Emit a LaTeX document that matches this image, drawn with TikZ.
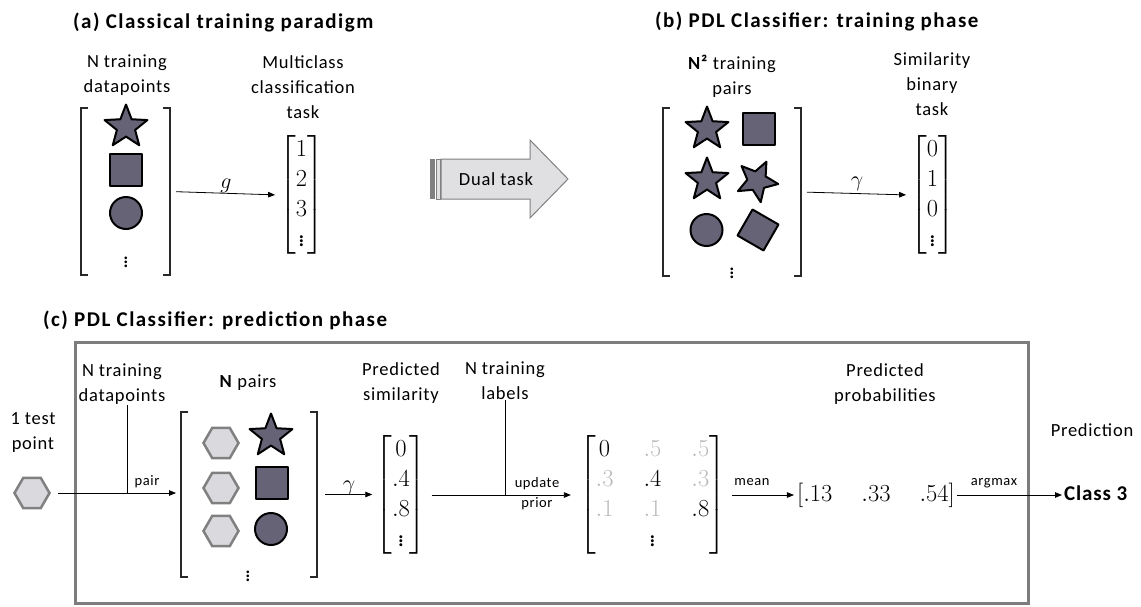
\RequirePackage{fix-cm}
\documentclass[tikz,border=0pt]{standalone}
\usepackage{amsmath}
\usepackage[no-math]{fontspec}
\setmainfont{Carlito}[LetterSpace=4]
\usetikzlibrary{arrows.meta,shapes.geometric}

\definecolor{shapefill}{RGB}{102,99,119}
\definecolor{hexfill}{RGB}{218,218,222}
\definecolor{hexline}{RGB}{128,128,128}
\definecolor{framecol}{RGB}{125,125,125}
\definecolor{arrowfill}{RGB}{224,224,226}
\definecolor{faint}{RGB}{185,185,185}
\definecolor{bracketcol}{RGB}{40,40,40}

% open square brackets around a group node
\newcommand\groupbrackets[1]{%
  \draw[bigbr] ([xshift=7pt]#1.north west) -- (#1.north west) -- (#1.south west) -- ([xshift=7pt]#1.south west);
  \draw[bigbr] ([xshift=-7pt]#1.north east) -- (#1.north east) -- (#1.south east) -- ([xshift=-7pt]#1.south east);
}

\begin{document}
\begin{tikzpicture}[x=1pt,y=-1pt,
  lbl/.style={font=\fontsize{18.5}{25}\selectfont, align=center, inner sep=0pt},
  ttl/.style={font=\fontsize{21}{25}\selectfont\bfseries\addfontfeatures{LetterSpace=7}, anchor=base west, inner sep=0pt},
  note/.style={font=\fontsize{14.5}{20}\selectfont, align=center, inner sep=0pt},
  mbig/.style={font=\fontsize{24.5}{30}\selectfont, inner sep=0pt},
  msym/.style={font=\fontsize{22}{26}\selectfont, inner sep=0pt},
  shp/.style={draw=black, line width=2pt, fill=shapefill, inner sep=0pt, line join=round},
  starshp/.style={shp, star, star points=5, star point ratio=2.35, minimum size=45pt},
  sqshp/.style={shp, rectangle, minimum size=32pt},
  circshp/.style={shp, circle, minimum size=32pt},
  hexshp/.style={draw=hexline, line width=2.5pt, fill=hexfill, regular polygon, regular polygon sides=6, minimum size=35pt, inner sep=0pt},
  group/.style={inner sep=0pt, outer sep=0pt},
  bigbr/.style={line width=2pt, draw=bracketcol},
  conn/.style={-{Triangle[length=7pt,width=5.5pt]}, line width=0.8pt},
  joinline/.style={line width=0.8pt}
]
\useasboundingbox (0,0) rectangle (1141,606);

% ---------- (a) classical training ----------
\node[ttl] (ta) at (73,28) {(a) Classical training paradigm};
\node[lbl, anchor=north] (la) at (127,55) {N training\\datapoints};
\node[group, minimum width=89pt, minimum height=167pt] (colA) at (125.5,191.5) {};
\groupbrackets{colA}
\node[starshp] (a1) at (126,127) {};
\node[sqshp] (a2) at (126,170) {};
\node[circshp] (a3) at (126,213) {};
\node[msym] (a4) at (126,259) {$\vdots$};
\node[lbl, anchor=north] (lm) at (303,55) {Multiclass\\classification\\task};
\node[mbig] (va) at (301.5,195) {$\begin{bmatrix}1\\2\\3\\\vdots\end{bmatrix}$};
\draw[conn, shorten <=6pt, shorten >=4pt] (colA.east) -- (va.west);
\node[msym, anchor=base] (g) at (226,188) {$g$};

% ---------- dual task arrow ----------
\draw[fill=arrowfill, draw=hexline, line width=1pt]
  (441,159) -- (530,159) -- (530,140) -- (568,179) -- (530,218) -- (530,199) -- (441,199) -- cycle;
\fill[hexline] (430,159) rectangle (435,199);
\draw[fill=arrowfill, draw=hexline, line width=1pt] (436.5,159) rectangle (440,199);
\node[lbl] (dual) at (496,179) {Dual task};

% ---------- (b) PDL training ----------
\node[ttl] (tb) at (655,27) {(b) PDL Classifier: training phase};
\node[lbl, anchor=north] (lb) at (732,55) {\textbf{N²} training\\pairs};
\node[group, minimum width=138pt, minimum height=168pt] (colB) at (732,192) {};
\groupbrackets{colB}
\node[starshp] (b1) at (707,129) {};
\node[sqshp] (b2) at (758.5,128.5) {};
\node[starshp] (b3) at (707,180) {};
\node[starshp, rotate=190, minimum size=43pt, star point ratio=2.2] (b4) at (757,181) {};
\node[circshp] (b5) at (706.5,230) {};
\node[sqshp, rotate=-30, minimum size=30pt] (b6) at (758,230) {};
\node[msym] (b7) at (732,270) {$\vdots$};
\node[lbl, anchor=north] (lsim) at (932,52) {Similarity\\binary\\task};
\node[mbig] (vb) at (932.5,195) {$\begin{bmatrix}0\\1\\0\\\vdots\end{bmatrix}$};
\draw[conn, shorten <=6pt, shorten >=4pt] (colB.east) -- (vb.west);
\node[msym, anchor=base] (gb) at (857,186) {$\gamma$};

% ---------- (c) PDL prediction ----------
\node[ttl] (tc) at (43,326) {(c) PDL Classifier: prediction phase};
\draw[framecol, line width=3pt] (75.5,342.5) rectangle (1028.5,603);

\node[lbl, anchor=north] (ltest) at (33,412) {1 test\\point};
\node[hexshp] (tp) at (32,493) {};
\node[lbl, anchor=north] (lnd) at (122,364) {N training\\datapoints};
\node[lbl, anchor=base] (lnp) at (248,387) {\textbf{N} pairs};
\node[group, minimum width=136pt, minimum height=165pt] (colC) at (249,494.5) {};
\groupbrackets{colC}
\node[hexshp] (h1) at (221,443) {};
\node[hexshp] (h2) at (221,488) {};
\node[hexshp] (h3) at (221,531) {};
\node[starshp] (c1) at (271,436) {};
\node[sqshp] (c2) at (271.5,483) {};
\node[circshp] (c3) at (271,529) {};
\node[msym] (c4) at (248,573) {$\vdots$};

\coordinate (j1) at (127,493);
\draw[joinline] (lnd.south -| j1) -- (j1);
\draw[conn, shorten <=7pt, shorten >=5pt] (tp.east) -- (tp.east -| colC.west);
\node[note, anchor=base] (lpair) at (147,485) {pair};

\node[mbig] (vc) at (401,495) {$\begin{bmatrix}0\\.4\\.8\\\vdots\end{bmatrix}$};
\draw[conn, shorten <=8pt, shorten >=3pt] (colC.east) -- (colC.east -| vc.west);
\node[msym, anchor=base] (gc) at (349,490) {$\gamma$};
\node[lbl, anchor=north] (lps) at (401,362) {Predicted\\similarity};

\node[lbl, anchor=north] (lntl) at (505,362) {N training\\labels};
\coordinate (j2) at (505,495);
\draw[joinline] (lntl.south -| j2) -- (j2);
\node[mbig] (mat) at (652.5,495) {$\setlength{\arraycolsep}{15pt}\begin{bmatrix}
  0 & \color{faint}.5 & \color{faint}.5\\
  \color{faint}.3 & .4 & \color{faint}.3\\
  \color{faint}.1 & \color{faint}.1 & .8\\
  & \vdots &
\end{bmatrix}$};
\draw[conn, shorten <=5pt, shorten >=8pt] (vc.east) -- (mat.west);
\node[note] (lup) at (537,493.5) {update\\prior};

\node[mbig] (pv) at (876,495) {$[.13\hspace{29pt}.33\hspace{29pt}.54]$};
\node[lbl, anchor=north] (lpp) at (885,363) {Predicted\\probabilities};
\draw[conn, shorten <=6pt, shorten >=3pt] (mat.east) -- (pv.west);
\node[note, anchor=base] (lmean) at (752,485) {mean};

\node[lbl, anchor=base] (lpred) at (1092,436) {Prediction};
\node[inner sep=0pt, anchor=west, font=\fontsize{21}{25}\selectfont\bfseries] (cls) at (1064,493) {Class 3};
\draw[conn, shorten <=2pt, shorten >=2pt] (pv.east) -- (pv.east -| cls.west);
\node[note, anchor=base] (largmax) at (994,485) {argmax};
\end{tikzpicture}
\end{document}
